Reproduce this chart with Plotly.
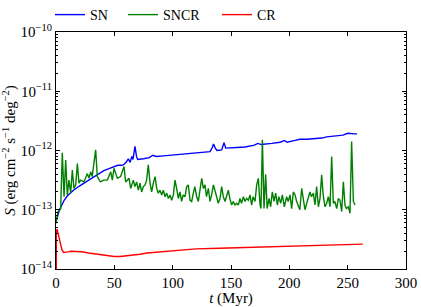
import plotly.graph_objects as go

# ---- data (log10 of S) ----
sn = [(0, -13.2), (1, -13.12), (3, -13.0), (5, -12.92), (7, -12.84), (10, -12.76),
      (15, -12.67), (20, -12.6), (24, -12.55), (28, -12.5), (33, -12.44), (37, -12.39),
      (41, -12.34), (46, -12.3), (50, -12.27), (53, -12.25), (56, -12.25), (58, -12.24),
      (60, -12.2), (62, -12.14), (63.5, -12.2), (65, -12.1), (66, -12.15), (67.7, -11.93),
      (69, -12.1), (70, -12.15), (75, -12.14), (80, -12.12), (83, -12.08), (86, -12.1),
      (92, -12.09), (98, -12.08), (105, -12.06), (115, -12.04), (123, -12.03), (128, -12.03),
      (132, -12.02), (134, -11.95), (135, -11.89), (136.5, -11.96), (138, -12.0), (142, -11.99),
      (144, -11.87), (145.5, -11.96), (147, -11.96), (155, -11.95), (162, -11.94), (170, -11.91),
      (173, -11.88), (176, -11.9), (185, -11.88), (192, -11.86), (196, -11.83), (198, -11.86),
      (205, -11.83), (209, -11.81), (215, -11.81), (221, -11.8), (228, -11.79), (232, -11.77),
      (240, -11.76), (246, -11.74), (250, -11.71), (253, -11.72), (256, -11.72), (258, -11.72)]

sncr = [(0, -13.23), (1.7, -13.03), (4, -12.99), (5.4, -12.04), (6.9, -12.78), (8.3, -12.16),
        (9.7, -12.75), (11.1, -12.5), (12.6, -12.72), (14, -12.33), (15.4, -12.64), (16.9, -12.58),
        (18.3, -12.22), (19.7, -12.55), (21, -12.5), (24, -12.53), (26.9, -12.39), (28.3, -12.47),
        (29.7, -12.36), (31, -12.44), (34, -11.99), (35.4, -12.44), (38, -12.53), (41, -12.5),
        (44, -12.5), (46.9, -12.36), (48.3, -12.5), (49.7, -12.3), (52.6, -12.47), (55.4, -12.44),
        (58.3, -12.27), (59.7, -12.53), (62.6, -12.47), (64, -12.64), (66.3, -12.5), (67.7, -12.61),
        (69.1, -12.53), (70.6, -12.67), (72, -12.55), (73.4, -12.7), (74.9, -12.61), (76.3, -12.58),
        (77.7, -12.5), (79.1, -12.24), (80.6, -12.55), (82, -12.7), (83.4, -12.55), (84.9, -12.44),
        (86.3, -12.64), (87.7, -12.72), (89.1, -12.67), (90.6, -12.75), (92, -12.67), (93.4, -12.78),
        (94.9, -12.72), (96.3, -12.81), (97.7, -12.75), (99.1, -12.84), (100.6, -12.75), (102, -12.5),
        (103.4, -12.64), (104.9, -12.81), (106.3, -12.7), (107.7, -12.86), (109, -12.75), (110.6, -12.78),
        (112, -12.61), (113.4, -12.58), (114.9, -12.84), (116.3, -12.86), (117.7, -12.72), (119, -12.61),
        (120.6, -12.78), (122, -12.86), (123.4, -12.67), (124.9, -12.47), (126.3, -12.64), (127.7, -12.58),
        (129, -12.78), (130.6, -12.64), (132, -12.86), (133.4, -12.75), (134.9, -12.58), (136.3, -12.67),
        (137.7, -12.78), (139, -12.89), (140.6, -12.81), (142, -12.61), (143.4, -12.78), (144.9, -12.86),
        (146.3, -12.75), (147.7, -12.67), (149, -12.81), (150.6, -12.92), (152, -12.86), (153.4, -12.92),
        (154.9, -12.89), (156.3, -12.92), (157.7, -12.81), (159, -12.89), (160.6, -12.78), (162, -12.86),
        (163.4, -12.81), (164.9, -12.84), (166.3, -12.75), (167.7, -12.92), (169, -12.78), (170.6, -12.86),
        (172, -12.58), (173.4, -12.47), (174.9, -12.92), (175.7, -12.98), (176.9, -11.82), (178.3, -12.98),
        (179.7, -12.4), (181, -12.98), (182.6, -12.81), (184, -12.95), (185.4, -12.7), (186.9, -12.86),
        (188.3, -12.72), (189.7, -12.92), (191, -12.78), (192.6, -12.89), (194, -12.75), (195.7, -12.95),
        (197.7, -12.78), (199, -12.86), (200.6, -12.75), (202, -12.98), (203.4, -12.7), (204.9, -12.75),
        (206.3, -12.86), (207.7, -12.92), (209, -13.0), (210.6, -12.64), (212, -12.84), (213.4, -13.0),
        (214.9, -12.89), (216.3, -12.81), (217.7, -12.7), (219, -12.78), (220.6, -12.72), (222, -12.92),
        (223.4, -12.61), (224.9, -12.95), (226.3, -12.81), (227.7, -12.41), (229, -12.75), (230.6, -12.95),
        (232, -12.89), (233.4, -12.78), (234.9, -12.95), (236.3, -12.1), (237.7, -12.89), (239, -12.86),
        (240.6, -12.98), (242, -12.81), (243.4, -12.84), (244.9, -13.03), (246.3, -12.53), (247.7, -12.92),
        (249, -12.98), (250.6, -12.95), (252, -13.06), (253.4, -11.85), (254.9, -12.86), (256.3, -12.92)]

cr = [(0, -16.0), (0.3, -13.35), (1, -13.33), (2, -13.42), (3, -13.5), (4, -13.6), (5, -13.67),
      (6.5, -13.72), (8, -13.72), (10, -13.71), (13, -13.7), (17, -13.7), (22, -13.71), (28, -13.73),
      (35, -13.75), (42, -13.77), (50, -13.79), (55, -13.79), (60, -13.78), (66, -13.77), (72, -13.75),
      (78, -13.73), (84, -13.72), (90, -13.71), (100, -13.69), (110, -13.67), (120, -13.66),
      (140, -13.65), (160, -13.64), (180, -13.63), (200, -13.62), (220, -13.61), (240, -13.6),
      (263, -13.58)]

series_names = ["SN", "SNCR", "CR"]
series_colors = ["#0000ff", "#008000", "#ff0000"]
x_ticks = [0, 50, 100, 150, 200, 250, 300]
y_tick_exps = [-14, -13, -12, -11, -10]

FONT = "Liberation Serif"
W, H = 421, 307
legend_names = ["legend", "legend2", "legend3"]
legend_left_px = [50, 123, 217]

fig = go.Figure()
for name, color, data, lg in zip(series_names, series_colors, [sn, sncr, cr], legend_names):
    fig.add_trace(go.Scatter(
        x=[p[0] for p in data],
        y=[10 ** p[1] for p in data],
        mode="lines", name=name, legend=lg,
        line=dict(color=color, width=1.4),
    ))

legend_common = dict(orientation="h", xref="container", yref="container",
                     xanchor="left", yanchor="middle", y=1 - 15 / H,
                     font=dict(family=FONT, size=14), bgcolor="rgba(0,0,0,0)",
                     borderwidth=0)

fig.update_layout(
    width=W, height=H,
    margin=dict(l=56, r=15, t=32, b=38, autoexpand=False),
    paper_bgcolor="white", plot_bgcolor="white",
    font=dict(family=FONT, size=14, color="black"),
    showlegend=True,
    legend=dict(x=legend_left_px[0] / W, **legend_common),
    legend2=dict(x=legend_left_px[1] / W, **legend_common),
    legend3=dict(x=legend_left_px[2] / W, **legend_common),
)
fig.update_xaxes(
    range=[0, 300], tickvals=x_ticks, ticktext=[str(v) for v in x_ticks],
    showline=True, linecolor="black", linewidth=1, mirror="ticks",
    ticks="inside", ticklen=4, tickcolor="black", showgrid=False, zeroline=False,
    tickfont=dict(family=FONT, size=15), automargin=False,
    title=dict(text="<i>t</i> (Myr)", font=dict(family=FONT, size=15), standoff=2),
)
fig.update_yaxes(
    type="log", range=[-14, -10],
    tickvals=[10 ** e for e in y_tick_exps],
    ticktext=["10<sup>\u2212%d</sup>" % (-e) for e in y_tick_exps],
    showline=True, linecolor="black", linewidth=1, mirror="ticks",
    ticks="inside", ticklen=4, tickcolor="black", showgrid=False, zeroline=False,
    minor=dict(ticks="inside", ticklen=2, tickcolor="black", showgrid=False,
               tickvals=[m * 10 ** e for e in y_tick_exps[:-1] for m in range(2, 10)]),
    tickfont=dict(family=FONT, size=15), automargin=False,
    title=dict(text="<i>S</i> (erg cm<sup>\u22122</sup> s<sup>\u22121</sup> deg<sup>\u22122</sup>)",
               font=dict(family=FONT, size=15), standoff=2),
)

fig.write_html("out.html", config={"displayModeBar": False},
               post_script="document.body.style.margin='0';document.body.style.overflow='hidden';")
